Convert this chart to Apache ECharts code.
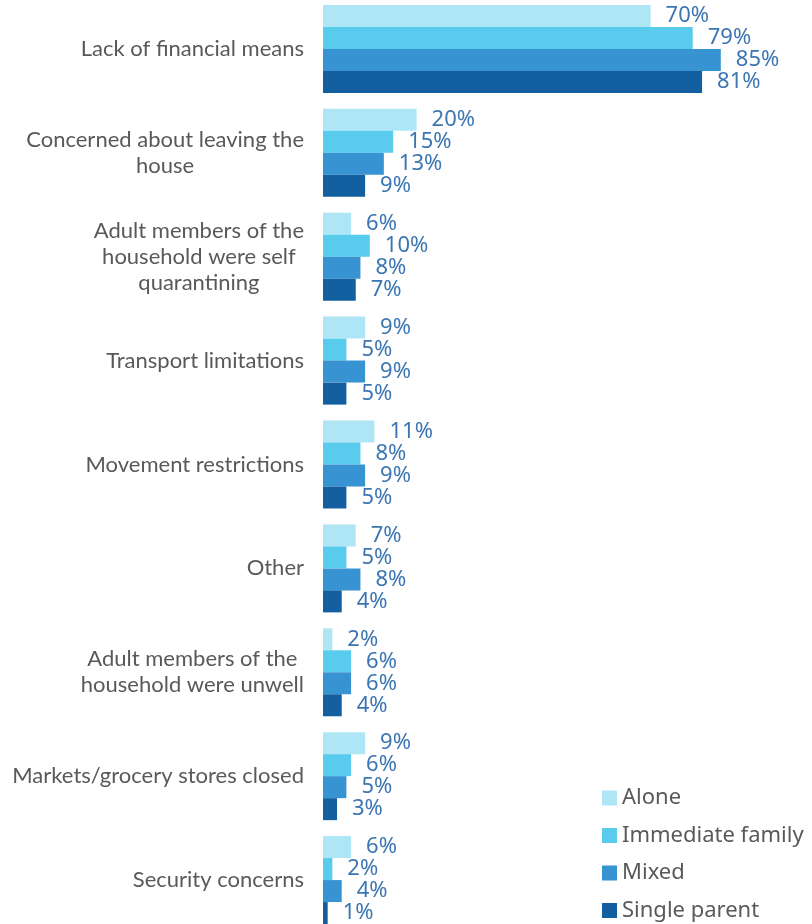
<!DOCTYPE html>
<html>
<head>
<meta charset="utf-8">
<script src="https://cdn.jsdelivr.net/npm/echarts@6/dist/echarts.min.js"></script>
<style>
  html, body { margin: 0; padding: 0; background: #fff; }
  #main { width: 812px; height: 924px; }
</style>
</head>
<body>
<div id="main"></div>
<script>
var categories = [
    'Lack of financial means',
    'Concerned about leaving the\nhouse',
    'Adult members of the\nhousehold were self\nquarantining',
    'Transport limitations',
    'Movement restrictions',
    'Other',
    'Adult members of the\nhousehold were unwell',
    'Markets/grocery stores closed',
    'Security concerns'
];
var seriesNames = ['Alone', 'Immediate family', 'Mixed', 'Single parent'];
var alone = [70, 20, 6, 9, 11, 7, 2, 9, 6];
var immediateFamily = [79, 15, 10, 5, 8, 5, 6, 6, 2];
var mixed = [85, 13, 8, 9, 9, 8, 6, 5, 4];
var singleParent = [81, 9, 7, 5, 5, 4, 4, 3, 1];
var colors = ['#aee6f6', '#59cbec', '#3893d2', '#135f9f'];

var myChart = echarts.init(document.getElementById('main'));
var catFont = 'Lato, "Noto Sans", sans-serif';
var numFont = '"Noto Sans", Lato, sans-serif';

function makeSeries(name, data) {
    return {
        name: name,
        type: 'bar',
        data: data,
        barGap: 0,
        barCategoryGap: '15.3%',
        label: {
            show: true,
            position: 'right',
            distance: 15,
            formatter: '{c}%',
            color: '#3b76b3',
            fontSize: 22,
            fontFamily: numFont
        }
    };
}

var option = {
    color: colors,
    animation: false,
    grid: {
        left: 323,
        top: -3,
        width: 468,
        height: 935,
        containLabel: false,
        outerBoundsMode: 'none'
    },
    legend: {
        orient: 'vertical',
        left: 602,
        top: 787,
        padding: 0,
        itemWidth: 15,
        itemHeight: 15,
        itemGap: 15.5,
        icon: 'rect',
        data: seriesNames,
        textStyle: {
            color: '#595959',
            fontSize: 22,
            lineHeight: 22,
            fontFamily: numFont
        }
    },
    xAxis: {
        type: 'value',
        min: 0,
        max: 100,
        show: false
    },
    yAxis: {
        type: 'category',
        data: categories,
        inverse: true,
        axisLine: { show: false },
        axisTick: { show: false },
        axisLabel: {
            margin: 19,
            color: '#595959',
            fontSize: 22,
            lineHeight: 26,
            fontFamily: catFont,
            formatter: function (value) {
                return value.split('\n').map(function (s) {
                    return '{c|' + s + '}';
                }).join('\n');
            },
            rich: {
                c: {
                    align: 'center',
                    color: '#595959',
                    fontSize: 22,
                    lineHeight: 26,
                    fontFamily: catFont
                }
            }
        }
    },
    series: [
        makeSeries(seriesNames[0], alone),
        makeSeries(seriesNames[1], immediateFamily),
        makeSeries(seriesNames[2], mixed),
        makeSeries(seriesNames[3], singleParent)
    ]
};

myChart.setOption(option);
</script>
</body>
</html>
